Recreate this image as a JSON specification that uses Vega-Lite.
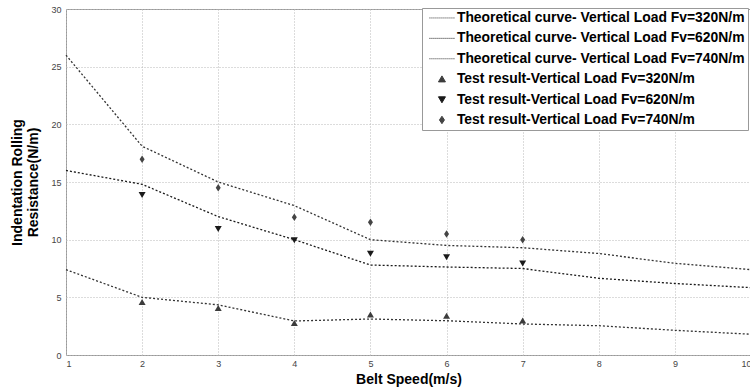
{
  "$schema": "https://vega.github.io/schema/vega-lite/v6.json",
  "width": 685,
  "height": 346,
  "autosize": {"type": "none"},
  "padding": {"left": 66, "top": 9, "right": 0, "bottom": 35},
  "background": "white",
  "config": {
    "font": "Liberation Sans",
    "view": {"stroke": "#999", "strokeWidth": 1},
    "axis": {
      "domain": false,
      "ticks": false,
      "grid": true,
      "gridColor": "#b8b8b8",
      "gridDash": [1, 2],
      "gridOpacity": 1,
      "gridWidth": 1,
      "labelFont": "Liberation Sans",
      "labelFontSize": 9,
      "labelColor": "#444",
      "titleFont": "Liberation Sans",
      "titleFontSize": 14,
      "titleFontWeight": "bold",
      "titleColor": "#000"
    }
  },
  "datasets": {
    "curves": [
      {"series": "Theoretical curve- Vertical Load Fv=320N/m", "speed": 1, "value": 7.4},
      {"series": "Theoretical curve- Vertical Load Fv=320N/m", "speed": 2, "value": 5.0},
      {"series": "Theoretical curve- Vertical Load Fv=320N/m", "speed": 3, "value": 4.35},
      {"series": "Theoretical curve- Vertical Load Fv=320N/m", "speed": 4, "value": 2.95},
      {"series": "Theoretical curve- Vertical Load Fv=320N/m", "speed": 5, "value": 3.12},
      {"series": "Theoretical curve- Vertical Load Fv=320N/m", "speed": 6, "value": 2.97},
      {"series": "Theoretical curve- Vertical Load Fv=320N/m", "speed": 7, "value": 2.69},
      {"series": "Theoretical curve- Vertical Load Fv=320N/m", "speed": 8, "value": 2.54},
      {"series": "Theoretical curve- Vertical Load Fv=320N/m", "speed": 9, "value": 2.14},
      {"series": "Theoretical curve- Vertical Load Fv=320N/m", "speed": 10, "value": 1.8},
      {"series": "Theoretical curve- Vertical Load Fv=620N/m", "speed": 1, "value": 16.0},
      {"series": "Theoretical curve- Vertical Load Fv=620N/m", "speed": 2, "value": 14.8},
      {"series": "Theoretical curve- Vertical Load Fv=620N/m", "speed": 3, "value": 12.0},
      {"series": "Theoretical curve- Vertical Load Fv=620N/m", "speed": 4, "value": 10.0},
      {"series": "Theoretical curve- Vertical Load Fv=620N/m", "speed": 5, "value": 7.8},
      {"series": "Theoretical curve- Vertical Load Fv=620N/m", "speed": 6, "value": 7.63},
      {"series": "Theoretical curve- Vertical Load Fv=620N/m", "speed": 7, "value": 7.5},
      {"series": "Theoretical curve- Vertical Load Fv=620N/m", "speed": 8, "value": 6.65},
      {"series": "Theoretical curve- Vertical Load Fv=620N/m", "speed": 9, "value": 6.2},
      {"series": "Theoretical curve- Vertical Load Fv=620N/m", "speed": 10, "value": 5.84},
      {"series": "Theoretical curve- Vertical Load Fv=740N/m", "speed": 1, "value": 26.0},
      {"series": "Theoretical curve- Vertical Load Fv=740N/m", "speed": 2, "value": 18.1},
      {"series": "Theoretical curve- Vertical Load Fv=740N/m", "speed": 3, "value": 15.0},
      {"series": "Theoretical curve- Vertical Load Fv=740N/m", "speed": 4, "value": 12.95},
      {"series": "Theoretical curve- Vertical Load Fv=740N/m", "speed": 5, "value": 10.0},
      {"series": "Theoretical curve- Vertical Load Fv=740N/m", "speed": 6, "value": 9.5},
      {"series": "Theoretical curve- Vertical Load Fv=740N/m", "speed": 7, "value": 9.3},
      {"series": "Theoretical curve- Vertical Load Fv=740N/m", "speed": 8, "value": 8.8},
      {"series": "Theoretical curve- Vertical Load Fv=740N/m", "speed": 9, "value": 7.95},
      {"series": "Theoretical curve- Vertical Load Fv=740N/m", "speed": 10, "value": 7.4}
    ],
    "tests": [
      {"series": "Test result-Vertical Load Fv=320N/m", "speed": 2, "value": 4.57},
      {"series": "Test result-Vertical Load Fv=320N/m", "speed": 3, "value": 4.05},
      {"series": "Test result-Vertical Load Fv=320N/m", "speed": 4, "value": 2.75},
      {"series": "Test result-Vertical Load Fv=320N/m", "speed": 5, "value": 3.5},
      {"series": "Test result-Vertical Load Fv=320N/m", "speed": 6, "value": 3.38},
      {"series": "Test result-Vertical Load Fv=320N/m", "speed": 7, "value": 2.97},
      {"series": "Test result-Vertical Load Fv=620N/m", "speed": 2, "value": 13.9},
      {"series": "Test result-Vertical Load Fv=620N/m", "speed": 3, "value": 10.95},
      {"series": "Test result-Vertical Load Fv=620N/m", "speed": 4, "value": 9.97},
      {"series": "Test result-Vertical Load Fv=620N/m", "speed": 5, "value": 8.8},
      {"series": "Test result-Vertical Load Fv=620N/m", "speed": 6, "value": 8.5},
      {"series": "Test result-Vertical Load Fv=620N/m", "speed": 7, "value": 7.95},
      {"series": "Test result-Vertical Load Fv=740N/m", "speed": 2, "value": 16.97},
      {"series": "Test result-Vertical Load Fv=740N/m", "speed": 3, "value": 14.5},
      {"series": "Test result-Vertical Load Fv=740N/m", "speed": 4, "value": 11.95},
      {"series": "Test result-Vertical Load Fv=740N/m", "speed": 5, "value": 11.5},
      {"series": "Test result-Vertical Load Fv=740N/m", "speed": 6, "value": 10.5},
      {"series": "Test result-Vertical Load Fv=740N/m", "speed": 7, "value": 10.0}
    ]
  },
  "encoding": {
    "x": {
      "field": "speed", "type": "quantitative",
      "scale": {"domain": [1, 10], "nice": false},
      "axis": {"values": [1, 2, 3, 4, 5, 6, 7, 8, 9, 10], "title": "Belt Speed(m/s)", "labelPadding": 4, "titlePadding": 4}
    },
    "y": {
      "field": "value", "type": "quantitative",
      "scale": {"domain": [0, 30], "nice": false},
      "axis": {"values": [0, 5, 10, 15, 20, 25, 30], "title": ["Indentation Rolling", "Resistance(N/m)"], "labelPadding": 5, "titlePadding": 10, "titleLineHeight": 16}
    },
    "color": {
      "field": "series", "type": "nominal",
      "scale": {
        "domain": [
          "Theoretical curve- Vertical Load Fv=320N/m",
          "Theoretical curve- Vertical Load Fv=620N/m",
          "Theoretical curve- Vertical Load Fv=740N/m",
          "Test result-Vertical Load Fv=320N/m",
          "Test result-Vertical Load Fv=620N/m",
          "Test result-Vertical Load Fv=740N/m"
        ],
        "range": ["#333333", "#1a1a1a", "#333333", "#3c3c3c", "#1a1a1a", "#444444"]
      },
      "legend": {
        "title": null,
        "orient": "none",
        "legendX": 356,
        "legendY": -1,
        "padding": 3,
        "fillColor": "white",
        "strokeColor": "#999",
        "symbolSize": 100,
        "symbolOffset": 10,
        "symbolStrokeColor": "#333",
        "symbolStrokeWidth": 1,
        "labelFont": "Liberation Sans",
        "labelFontSize": 13.9,
        "labelFontWeight": "bold",
        "labelColor": "#000",
        "labelOffset": 8,
        "labelLimit": 400,
        "rowPadding": 5.4
      }
    }
  },
  "layer": [
    {
      "data": {"name": "curves"},
      "mark": {"type": "line", "strokeDash": [2, 2], "strokeWidth": 1.3},
      "encoding": {}
    },
    {
      "data": {"name": "tests"},
      "mark": {"type": "point", "filled": true, "size": 100, "opacity": 1},
      "encoding": {
        "shape": {
          "field": "series", "type": "nominal",
          "scale": {
            "domain": [
              "Theoretical curve- Vertical Load Fv=320N/m",
              "Theoretical curve- Vertical Load Fv=620N/m",
              "Theoretical curve- Vertical Load Fv=740N/m",
              "Test result-Vertical Load Fv=320N/m",
              "Test result-Vertical Load Fv=620N/m",
              "Test result-Vertical Load Fv=740N/m"
            ],
            "range": [
              "M-2.5,0h0.2M-2.1,0h0.2M-1.7,0h0.2M-1.3,0h0.2M-0.9,0h0.2M-0.5,0h0.2M-0.1,0h0.2M0.3,0h0.2M0.7,0h0.2M1.1,0h0.2M1.5,0h0.2M1.9,0h0.2M2.3,0h0.2",
              "M-2.5,0h0.2M-2.1,0h0.2M-1.7,0h0.2M-1.3,0h0.2M-0.9,0h0.2M-0.5,0h0.2M-0.1,0h0.2M0.3,0h0.2M0.7,0h0.2M1.1,0h0.2M1.5,0h0.2M1.9,0h0.2M2.3,0h0.2",
              "M-2.5,0h0.2M-2.1,0h0.2M-1.7,0h0.2M-1.3,0h0.2M-0.9,0h0.2M-0.5,0h0.2M-0.1,0h0.2M0.3,0h0.2M0.7,0h0.2M1.1,0h0.2M1.5,0h0.2M1.9,0h0.2M2.3,0h0.2",
              "M0,-0.65L0.7,0.55L-0.7,0.55Z",
              "M0,0.65L0.7,-0.55L-0.7,-0.55Z",
              "M0,-0.75L0.5,0L0,0.75L-0.5,0Z"
            ]
          },
          "legend": {
            "title": null,
            "orient": "none",
            "legendX": 356,
            "legendY": -1
          }
        }
      }
    }
  ]
}
